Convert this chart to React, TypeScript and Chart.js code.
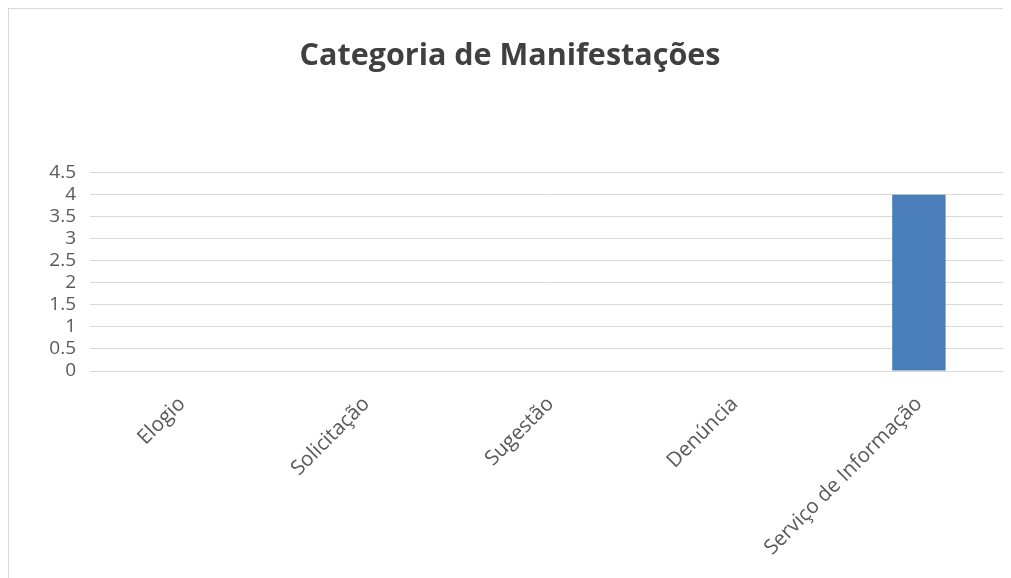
import React, { useEffect, useRef } from "react";
import { Chart, registerables } from "chart.js";

Chart.register(...registerables);

const categories = ["Elogio", "Solicitação", "Sugestão", "Denúncia", "Serviço de Informação"];
const values = [0, 0, 0, 0, 4];
const chartTitle = "Categoria de Manifestações";

export default function App() {
  const ref = useRef<HTMLCanvasElement | null>(null);
  useEffect(() => {
    if (!ref.current) return;
    const chart = new Chart(ref.current, {
      type: "bar",
      data: {
        labels: categories,
        datasets: [
          {
            label: "Categoria",
            data: values,
            backgroundColor: "#4a7ebb",
            borderWidth: 0,
            barPercentage: 0.29,
            categoryPercentage: 1,
          },
        ],
      },
      options: {
        animation: false,
        responsive: false,
        maintainAspectRatio: false,
        layout: { padding: { left: 0, right: 0, top: 0, bottom: 0 } },
        plugins: {
          legend: { display: false },
          tooltip: { enabled: false },
          title: {
            display: true,
            text: chartTitle,
            color: "#404040",
            font: { family: "Open Sans", size: 30.5, weight: "bold" },
            padding: { top: 29, bottom: 98 },
          },
        },
        scales: {
          x: {
            grid: { display: false, drawTicks: false },
            border: { display: false },
            ticks: {
              color: "#595959",
              font: { family: "Open Sans", size: 20.5 },
              minRotation: 45,
              maxRotation: 45,
              padding: 21,
              autoSkip: false,
            },
            afterFit: (scale: any) => {
              scale.height = 207;
            },
          },
          y: {
            min: 0,
            max: 4.5,
            grid: { color: "#d9d9d9", drawTicks: false, lineWidth: 1 },
            border: { display: false },
            ticks: {
              stepSize: 0.5,
              color: "#595959",
              font: { family: "Open Sans", size: 19 },
              padding: 14,
              autoSkip: false,
              callback: (v: any) => String(Number(v)),
            },
            afterFit: (scale: any) => {
              scale.width = 81;
            },
          },
        },
      },
    });
    return () => chart.destroy();
  }, []);
  return (
    <div
      style={{
        width: 1003,
        height: 570,
        borderTop: "1px solid #d9d9d9",
        borderLeft: "1px solid #d9d9d9",
        boxSizing: "border-box",
        background: "#fff",
      }}
    >
      <canvas ref={ref} width={1002} height={569} style={{ display: "block" }} />
    </div>
  );
}
